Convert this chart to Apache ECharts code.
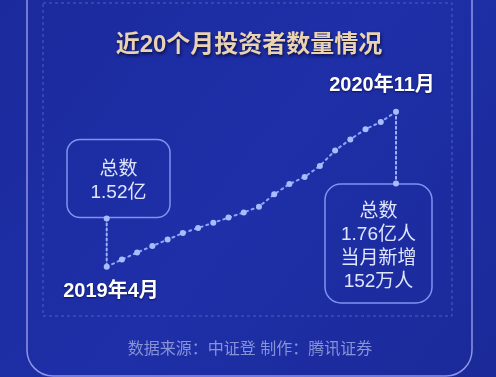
<!DOCTYPE html>
<html><head><meta charset="utf-8">
<script src="https://cdn.jsdelivr.net/npm/echarts@6/dist/echarts.min.js"></script>
<style>html,body{margin:0;padding:0;background:#1b2a9e}#c{width:496px;height:377px}</style>
</head><body><div id="c"></div>
<script>
var titleText = '近20个月投资者数量情况';
var months = ['2019年4月','2019年5月','2019年6月','2019年7月','2019年8月','2019年9月','2019年10月','2019年11月','2019年12月','2020年1月','2020年2月','2020年3月','2020年4月','2020年5月','2020年6月','2020年7月','2020年8月','2020年9月','2020年10月','2020年11月'];
var investors = [1.520,1.531,1.542,1.552,1.562,1.572,1.580,1.588,1.596,1.604,1.613,1.632,1.648,1.659,1.676,1.700,1.717,1.733,1.744,1.760];
var startLabel = '2019年4月';
var endLabel = '2020年11月';
var startBox = ['总数','1.52亿'];
var endBox = ['总数','1.76亿人','当月新增','152万人'];
var sourceText = '数据来源：中证登 制作：腾讯证券';

var FONT = '"Liberation Sans", "Noto Sans CJK SC", sans-serif';
var chart = echarts.init(document.getElementById('c'), null, {renderer:'canvas'});
var option = {
  backgroundColor: {type:'linear', x:0, y:0, x2:1, y2:1, colorStops:[{offset:0,color:'#1b2a9c'},{offset:0.5,color:'#1e2fa8'},{offset:1,color:'#1b2a98'}]},
  animation: false,
  grid: {left:106.7, right:100, top:111.7, bottom:110.3},
  xAxis: {type:'category', data: months, boundaryGap:false, show:false},
  yAxis: {type:'value', min:1.52, max:1.76, show:false},
  series: [{
    type:'line', data: investors, z:5,
    symbol:'circle', symbolSize:6,
    itemStyle:{color:'#a9bcff'},
    lineStyle:{color:'#8ea5ff', width:2, type:[2,4], cap:'round'}
  }]
};
chart.setOption(option);

var p0 = chart.convertToPixel({gridIndex:0}, [0, investors[0]]);
var pN = chart.convertToPixel({gridIndex:0}, [months.length-1, investors[investors.length-1]]);

var dotted = {stroke:'#9fb2ff', lineWidth:2, lineDash:[2,3], lineCap:'round'};
var graphics = [
  {type:'rect', z:1, shape:{x:27, y:-40, width:445, height:416, r:26}, style:{fill:'rgba(0,0,0,0)', stroke:'#8f95e6', lineWidth:1.5}},
  {type:'rect', z:1, shape:{x:43, y:3, width:409, height:313}, style:{fill:'rgba(0,0,0,0)', stroke:'#4e5fc2', lineWidth:1, lineDash:[3,3]}},
  {type:'text', z:10, x:249, y:45, style:{text:titleText, font:'bold 24px '+FONT, fill:'#e9d3b3', align:'center', verticalAlign:'middle', textShadowColor:'rgba(10,10,50,0.8)', textShadowBlur:3, textShadowOffsetX:1, textShadowOffsetY:2}},
  {type:'text', z:10, x:382, y:85, style:{text:endLabel, font:'bold 20px '+FONT, fill:'#ffffff', align:'center', verticalAlign:'middle', textShadowColor:'rgba(0,0,40,0.6)', textShadowBlur:2, textShadowOffsetY:1}},
  {type:'text', z:10, x:111, y:291, style:{text:startLabel, font:'bold 20px '+FONT, fill:'#ffffff', align:'center', verticalAlign:'middle', textShadowColor:'rgba(0,0,40,0.6)', textShadowBlur:2, textShadowOffsetY:1}},
  {type:'rect', z:3, shape:{x:67, y:139.5, width:103, height:78, r:13}, style:{fill:'rgba(0,0,0,0)', stroke:'#7f93f2', lineWidth:1.5}},
  {type:'text', z:10, x:118.5, y:170, style:{text:startBox[0], font:'19px '+FONT, fill:'#dfe5ff', align:'center', verticalAlign:'middle'}},
  {type:'text', z:10, x:118.5, y:193, style:{text:startBox[1], font:'19px '+FONT, fill:'#dfe5ff', align:'center', verticalAlign:'middle'}},
  {type:'line', z:4, shape:{x1:p0[0], y1:218.5, x2:p0[0], y2:p0[1]}, style:dotted},
  {type:'circle', z:6, shape:{cx:p0[0], cy:218.5, r:3}, style:{fill:'#a9bcff'}},
  {type:'rect', z:3, shape:{x:325, y:184, width:107, height:119, r:16}, style:{fill:'rgba(0,0,0,0)', stroke:'#7f93f2', lineWidth:1.5}},
  {type:'line', z:4, shape:{x1:pN[0], y1:pN[1], x2:pN[0], y2:183.5}, style:dotted},
  {type:'circle', z:6, shape:{cx:pN[0], cy:183.5, r:3}, style:{fill:'#a9bcff'}},
  {type:'text', z:10, x:250, y:350, style:{text:sourceText, font:'16px '+FONT, fill:'#8793d6', align:'center', verticalAlign:'middle'}}
];
endBox.forEach(function(t,i){
  graphics.push({type:'text', z:10, x:378.5, y:211.5 + i*23.4, style:{text:t, font:'19px '+FONT, fill:'#dfe5ff', align:'center', verticalAlign:'middle'}});
});
chart.setOption({graphic: graphics});
</script>
</body></html>
